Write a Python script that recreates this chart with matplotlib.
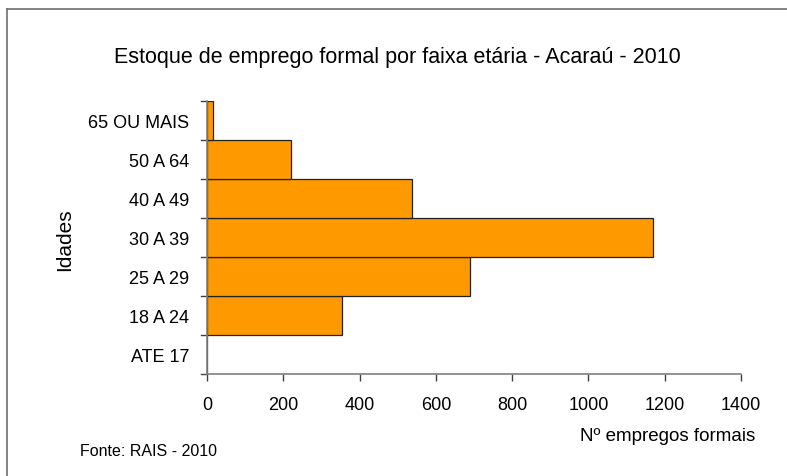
import matplotlib.pyplot as plt
from matplotlib.lines import Line2D

plt.rcParams['font.family'] = ['Liberation Sans', 'DejaVu Sans']

# dados
faixas = ['ATE 17', '18 A 24', '25 A 29', '30 A 39', '40 A 49', '50 A 64', '65 OU MAIS']
empregos = [0, 353, 690, 1168, 537, 221, 15]
x_ticks = [0, 200, 400, 600, 800, 1000, 1200, 1400]

W, H = 787, 477
fig = plt.figure(figsize=(W / 100, H / 100), dpi=100)
ax = fig.add_axes([207 / W, 1 - 375 / H, (741 - 207) / W, (375 - 102) / H])

ax.barh(range(len(faixas)), empregos, height=1.0, color='#FF9900',
        edgecolor='#222222', linewidth=0.9)

ax.set_xlim(0, 1400)
ax.set_ylim(-0.5, len(faixas) - 0.5)
ax.set_xticks(x_ticks)
ax.set_xticklabels([str(v) for v in x_ticks], fontsize=13)
ax.set_yticks(range(len(faixas)))
ax.set_yticklabels(faixas, fontsize=13)
ax.tick_params(axis='y', length=0, pad=13)
ax.tick_params(axis='x', length=5, pad=11, color='#404040', width=1)

# marcas entre categorias
for b in [i - 0.5 for i in range(len(faixas) + 1)]:
    ax.plot([-0.012, 0], [b, b], transform=ax.get_yaxis_transform(),
            color='#404040', lw=1, clip_on=False)

for s in ['top', 'right']:
    ax.spines[s].set_visible(False)
for s in ['left', 'bottom']:
    ax.spines[s].set_color('#808080')
    ax.spines[s].set_linewidth(1.2)

fig.text(397 / W, 1 - 58 / H, 'Estoque de emprego formal por faixa etária - Acaraú - 2010',
         ha='center', va='center', fontsize=15.5)
fig.text(65 / W, 1 - 240 / H, 'Idades', rotation=90, ha='center', va='center', fontsize=15)
fig.text(755 / W, 1 - 437 / H, 'Nº empregos formais', ha='right', va='center', fontsize=13.5)
fig.text(80 / W, 1 - 452 / H, 'Fonte: RAIS - 2010', ha='left', va='center', fontsize=11.5)

# moldura
fig.add_artist(Line2D([7 / W, 7 / W], [0, 1 - 10 / H], color='#707070', lw=1.2))
fig.add_artist(Line2D([7 / W, 1], [1 - 10 / H, 1 - 10 / H], color='#707070', lw=1.2))

fig.savefig('out.png', dpi=100)
